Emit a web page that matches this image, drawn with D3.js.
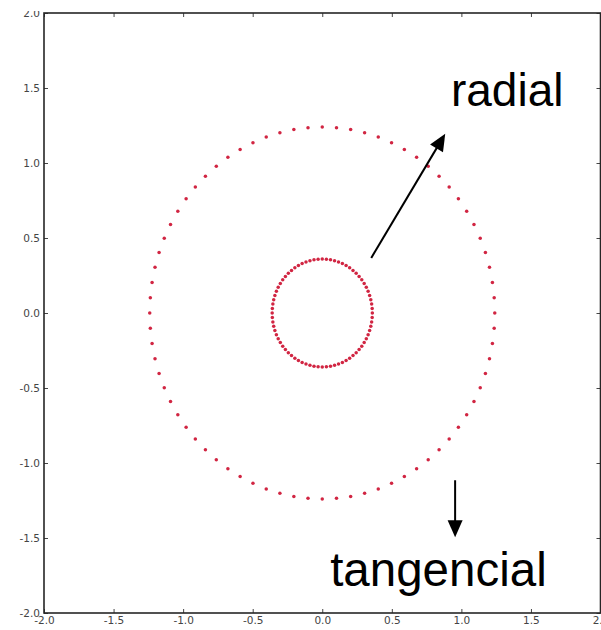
<!DOCTYPE html>
<html>
<head>
<meta charset="utf-8">
<script src="https://cdn.jsdelivr.net/npm/d3@7"></script>
<style>
  html, body { margin: 0; padding: 0; background: #fff; }
  svg { display: block; }
</style>
</head>
<body>
<svg id="chart" width="601" height="630"></svg>
<script>
// Axis range and tick values
const xTicks = [-2.0, -1.5, -1.0, -0.5, 0.0, 0.5, 1.0, 1.5, 2.0];
const yTicks = [-2.0, -1.5, -1.0, -0.5, 0.0, 0.5, 1.0, 1.5, 2.0];

// Two rings of points: radius and number of evenly spaced points on each
const ringRadius = [0.36, 1.24];
const ringPointCount = [76, 76];

// Annotation arrows (data units): start and tip
const arrowLabels = ["radial", "tangencial"];
const arrowStartX = [0.352, 0.955];
const arrowStartY = [0.367, -1.115];
const arrowTipX = [0.884, 0.955];
const arrowTipY = [1.195, -1.495];
// Annotation text anchor (left edge, baseline), data units
const labelX = [0.925, 0.057];
const labelY = [1.377, -1.820];

const W = 601, H = 630;
const margin = { left: 44, right: 0.5, top: 13, bottom: 17 };

const svg = d3.select("#chart");

const x = d3.scaleLinear().domain([-2, 2]).range([margin.left, W - margin.right]);
const y = d3.scaleLinear().domain([-2, 2]).range([H - margin.bottom, margin.top]);

const fmt = d3.formatLocale({ decimal: ".", thousands: ",", grouping: [3], currency: ["", ""], minus: "-" }).format(".1f");

// Points on each ring
const points = [];
ringRadius.forEach((r, i) => {
  const n = ringPointCount[i];
  for (let k = 0; k < n; k++) {
    const t = 2 * Math.PI * k / n;
    points.push({ x: r * Math.cos(t), y: r * Math.sin(t) });
  }
});

svg.append("g")
  .selectAll("circle")
  .data(points)
  .join("circle")
  .attr("cx", d => x(d.x))
  .attr("cy", d => y(d.y))
  .attr("r", 1.75)
  .attr("fill", "#d12542");

// Axes: inward ticks on all four sides, labels on left and bottom
function styleAxis(g) {
  g.select(".domain").remove();
  g.selectAll(".tick line").attr("stroke", "#444").attr("stroke-width", 1);
  g.selectAll(".tick text")
    .attr("fill", "#444")
    .attr("font-family", "DejaVu Sans, sans-serif")
    .attr("font-size", "10.5px");
}

svg.append("g")
  .attr("transform", `translate(${margin.left},0)`)
  .call(d3.axisLeft(y).tickValues(yTicks).tickFormat(fmt).tickSizeInner(-4).tickSizeOuter(0).tickPadding(4))
  .call(styleAxis);

svg.append("g")
  .attr("transform", `translate(0,${H - margin.bottom})`)
  .call(d3.axisBottom(x).tickValues(xTicks).tickFormat(fmt).tickSizeInner(-4).tickSizeOuter(0).tickPadding(4))
  .call(styleAxis);

svg.append("g")
  .attr("transform", `translate(0,${margin.top})`)
  .call(d3.axisTop(x).tickValues(xTicks).tickFormat("").tickSizeInner(-4).tickSizeOuter(0))
  .call(styleAxis);

svg.append("g")
  .attr("transform", `translate(${W - margin.right},0)`)
  .call(d3.axisRight(y).tickValues(yTicks).tickFormat("").tickSizeInner(-4).tickSizeOuter(0))
  .call(styleAxis);

// White band above the plot frame
svg.append("rect")
  .attr("x", 0).attr("y", 0)
  .attr("width", W).attr("height", 11)
  .attr("fill", "#fff");

// Plot frame
svg.append("rect")
  .attr("x", x(-2)).attr("y", y(2))
  .attr("width", x(2) - x(-2)).attr("height", y(-2) - y(2))
  .attr("fill", "none")
  .attr("stroke", "#262626")
  .attr("stroke-width", 1.6);

// Arrows with filled triangular heads
const headLen = 17, headHalf = 7.5;
arrowLabels.forEach((lab, i) => {
  const x0 = x(arrowStartX[i]), y0 = y(arrowStartY[i]);
  const x1 = x(arrowTipX[i]), y1 = y(arrowTipY[i]);
  const dx = x1 - x0, dy = y1 - y0;
  const len = Math.hypot(dx, dy);
  const ux = dx / len, uy = dy / len;
  const bx = x1 - ux * headLen, by = y1 - uy * headLen;
  svg.append("line")
    .attr("x1", x0).attr("y1", y0)
    .attr("x2", bx + ux * 2).attr("y2", by + uy * 2)
    .attr("stroke", "#000")
    .attr("stroke-width", 2);
  svg.append("polygon")
    .attr("points", [
      [x1, y1],
      [bx - uy * headHalf, by + ux * headHalf],
      [bx + uy * headHalf, by - ux * headHalf]
    ].map(p => p.join(",")).join(" "))
    .attr("fill", "#000");
  svg.append("text")
    .attr("x", x(labelX[i]))
    .attr("y", y(labelY[i]))
    .attr("font-family", "Liberation Sans, Arial, sans-serif")
    .attr("font-size", i === 0 ? "46px" : "47.5px")
    .attr("fill", "#000")
    .text(lab);
});
</script>
</body>
</html>
